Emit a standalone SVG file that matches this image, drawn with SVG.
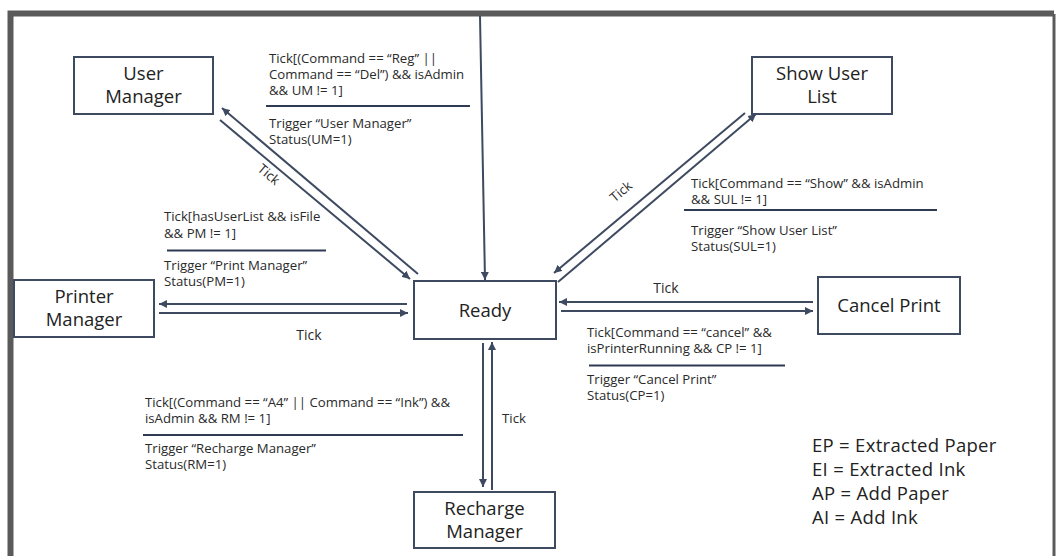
<svg xmlns="http://www.w3.org/2000/svg" width="1056" height="556" viewBox="0 0 1056 556">
<defs>
<marker id="ah" viewBox="0 0 10 10" refX="10" refY="5" markerWidth="8" markerHeight="8" markerUnits="userSpaceOnUse" orient="auto">
<path d="M0,0 L10,5 L0,10 z" fill="#3e4a60"/>
</marker>
</defs>
<style>
.node rect{fill:#fff;stroke:#3e4a60;stroke-width:2}
.nt{font-family:"Open Sans","Noto Sans",sans-serif;font-size:18.5px;fill:#222;text-anchor:middle}
.gt{font-family:"Open Sans","Noto Sans",sans-serif;font-size:13.2px;fill:#2a2a2a}
.lt{font-family:"Open Sans","Noto Sans",sans-serif;font-size:14px;fill:#2a2a2a}
.lg{font-family:"Open Sans","Noto Sans",sans-serif;font-size:18.5px;fill:#222;letter-spacing:0.3px}
.c{stroke:#3e4a60;stroke-width:2;fill:none}
.sep{stroke:#2f3b52;stroke-width:2}
</style>
<rect width="1056" height="556" fill="#fff"/>
<path d="M10.5,560 V13.5 H1054" fill="none" stroke="#5a5a5a" stroke-width="6"/>
<line x1="1054" y1="14" x2="1054" y2="560" stroke="#5a5a5a" stroke-width="3"/>

<g id="connectors">
<line class="c" x1="480" y1="16" x2="485" y2="280" marker-end="url(#ah)"/>
<line class="c" x1="418" y1="274" x2="222" y2="108" marker-end="url(#ah)"/>
<line class="c" x1="220" y1="120" x2="410" y2="279" marker-end="url(#ah)"/>
<line class="c" x1="745" y1="113" x2="554" y2="273" marker-end="url(#ah)"/>
<line class="c" x1="558" y1="282" x2="756" y2="114" marker-end="url(#ah)"/>
<line class="c" x1="407" y1="304" x2="159" y2="304" marker-end="url(#ah)"/>
<line class="c" x1="159" y1="313" x2="408" y2="313" marker-end="url(#ah)"/>
<line class="c" x1="813" y1="302" x2="559" y2="302" marker-end="url(#ah)"/>
<line class="c" x1="561" y1="311" x2="813" y2="311" marker-end="url(#ah)"/>
<line class="c" x1="483" y1="343" x2="483" y2="487" marker-end="url(#ah)"/>
<line class="c" x1="492" y1="490" x2="492" y2="342" marker-end="url(#ah)"/>
<text class="gt" transform="translate(266,178) rotate(40)" text-anchor="middle">Tick</text>
<text class="gt" transform="translate(624,195) rotate(-40)" text-anchor="middle">Tick</text>
<text class="lt" x="309" y="340" text-anchor="middle">Tick</text>
<text class="lt" x="666" y="293" text-anchor="middle">Tick</text>
<text class="gt" x="514" y="423" text-anchor="middle">Tick</text>

<g id="guard-um">
<text class="gt" x="269" y="63">Tick[(Command == “Reg” ||</text>
<text class="gt" x="269" y="79">Command == “Del”) &amp;&amp; isAdmin</text>
<text class="gt" x="269" y="95">&amp;&amp; UM != 1]</text>
<line class="sep" x1="266" y1="106" x2="470" y2="106"/>
<text class="gt" x="269" y="128">Trigger “User Manager”</text>
<text class="gt" x="269" y="144">Status(UM=1)</text>
</g>
<g id="guard-sul">
<text class="gt" x="691" y="188">Tick[Command == “Show” &amp;&amp; isAdmin</text>
<text class="gt" x="691" y="204">&amp;&amp; SUL != 1]</text>
<line class="sep" x1="684" y1="210" x2="937" y2="210"/>
<text class="gt" x="691" y="235">Trigger “Show User List”</text>
<text class="gt" x="691" y="251">Status(SUL=1)</text>
</g>
<g id="guard-pm">
<text class="gt" x="164" y="221">Tick[hasUserList &amp;&amp; isFile</text>
<text class="gt" x="164" y="238">&amp;&amp; PM != 1]</text>
<line class="sep" x1="167" y1="250.5" x2="326" y2="250.5"/>
<text class="gt" x="164" y="270">Trigger “Print Manager”</text>
<text class="gt" x="164" y="286">Status(PM=1)</text>
</g>
<g id="guard-cp">
<text class="gt" x="587" y="337">Tick[Command == “cancel” &amp;&amp;</text>
<text class="gt" x="587" y="353">isPrinterRunning &amp;&amp; CP != 1]</text>
<line class="sep" x1="589" y1="365.5" x2="785" y2="365.5"/>
<text class="gt" x="587" y="384">Trigger “Cancel Print”</text>
<text class="gt" x="587" y="400">Status(CP=1)</text>
</g>
<g id="guard-rm">
<text class="gt" x="145" y="407">Tick[(Command == “A4” || Command == “Ink”) &amp;&amp;</text>
<text class="gt" x="145" y="423">isAdmin &amp;&amp; RM != 1]</text>
<line class="sep" x1="143" y1="435" x2="463" y2="435"/>
<text class="gt" x="145" y="453">Trigger “Recharge Manager”</text>
<text class="gt" x="145" y="469">Status(RM=1)</text>
</g>
</g>

<g id="user-manager" class="node"><rect x="74" y="57" width="139" height="57"/><text class="nt" x="143.5" y="80">User</text><text class="nt" x="143.5" y="103">Manager</text></g>
<g id="show-user-list" class="node"><rect x="752" y="57" width="140" height="57"/><text class="nt" x="822" y="80">Show User</text><text class="nt" x="822" y="103">List</text></g>
<g id="printer-manager" class="node"><rect x="14" y="280" width="140" height="57"/><text class="nt" x="84" y="303">Printer</text><text class="nt" x="84" y="326">Manager</text></g>
<g id="ready" class="node"><rect x="414" y="281" width="142" height="58"/><text class="nt" x="485" y="317">Ready</text></g>
<g id="cancel-print" class="node"><rect x="818" y="277" width="142" height="57"/><text class="nt" x="889" y="312">Cancel Print</text></g>
<g id="recharge-manager" class="node"><rect x="414" y="492" width="141" height="56"/><text class="nt" x="484.5" y="515">Recharge</text><text class="nt" x="484.5" y="538">Manager</text></g>

<g id="legend">
<text class="lg" x="812" y="452">EP = Extracted Paper</text>
<text class="lg" x="812" y="476">EI = Extracted Ink</text>
<text class="lg" x="812" y="500">AP = Add Paper</text>
<text class="lg" x="812" y="524">AI = Add Ink</text>
</g>
</svg>
